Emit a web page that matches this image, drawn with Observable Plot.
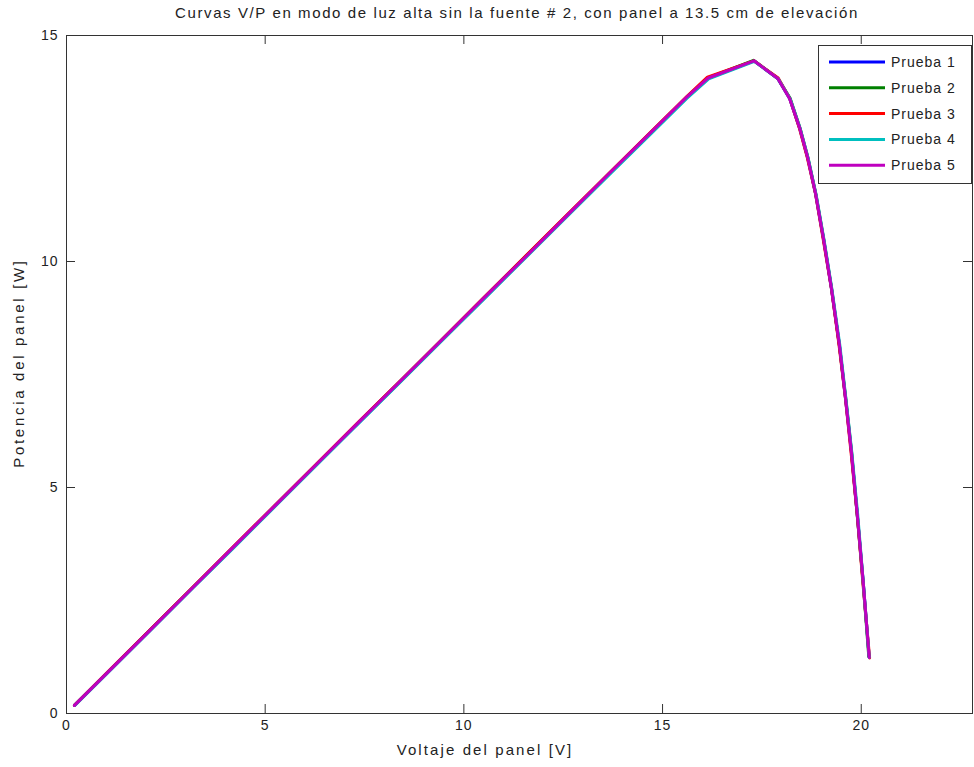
<!DOCTYPE html>
<html><head><meta charset="utf-8">
<script src="https://cdn.jsdelivr.net/npm/d3@7"></script>
<script src="https://cdn.jsdelivr.net/npm/@observablehq/plot@0.6"></script>
<style>
body{margin:0;background:#fff;}
#wrap{position:relative;width:974px;height:767px;font-family:"Liberation Sans",Arial,sans-serif;color:#222;}
#title{position:absolute;left:60px;top:0;width:914px;height:26px;line-height:26px;text-align:center;font-size:15px;letter-spacing:1.6px;white-space:nowrap;}
#chart{position:absolute;left:0;top:28px;}
#legend{position:absolute;left:818px;top:45px;width:154px;height:139px;box-sizing:border-box;border:1px solid #333;background:#fff;}
#xlabel{position:absolute;left:0;top:741px;width:970px;height:18px;line-height:18px;text-align:center;font-size:15px;letter-spacing:2.1px;white-space:nowrap;}
#ylabel{position:absolute;left:19px;top:363px;transform:translate(-50%,-50%) rotate(-90deg);font-size:15px;letter-spacing:2.7px;white-space:nowrap;line-height:18px;}
</style></head><body>
<div id="wrap"><div id="chart"></div><div id="title"></div><div id="legend"></div><div id="xlabel"></div><div id="ylabel"></div></div>
<script>
const titleText = "Curvas V/P en modo de luz alta sin la fuente # 2, con panel a 13.5 cm de elevación";
const xLabel = "Voltaje del panel [V]";
const yLabel = "Potencia del panel [W]";
const seriesNames = ["Prueba 1", "Prueba 2", "Prueba 3", "Prueba 4", "Prueba 5"];
const seriesColors = ["#0000ff", "#008000", "#ff0000", "#00bfbf", "#bf00bf"];
const xTicks = [0, 5, 10, 15, 20];
const yTicks = [0, 5, 10, 15];
const xDomain = [0, 22.8];
const yDomain = [0, 15];

const v1 = [0.20, 1.05, 2.10, 3.15, 4.20, 5.25, 6.30, 7.35, 8.40, 9.45, 10.50, 11.55, 12.60, 13.65, 14.70, 15.60, 16.15, 17.30, 17.90, 18.20, 18.45, 18.65, 18.85, 19.05, 19.25, 19.45, 19.60, 19.75, 19.90, 20.05, 20.20];
const p1 = [0.18, 0.92, 1.84, 2.76, 3.68, 4.60, 5.52, 6.43, 7.35, 8.27, 9.18, 10.10, 11.02, 11.93, 12.84, 13.62, 14.05, 14.44, 14.05, 13.60, 12.95, 12.30, 11.50, 10.50, 9.40, 8.15, 7.00, 5.80, 4.40, 2.90, 1.25];
const v2 = [0.21, 1.06, 2.11, 3.16, 4.21, 5.26, 6.31, 7.36, 8.41, 9.46, 10.51, 11.56, 12.61, 13.66, 14.71, 15.61, 16.16, 17.29, 17.90, 18.21, 18.46, 18.66, 18.86, 19.06, 19.26, 19.45, 19.61, 19.76, 19.90, 20.05, 20.19];
const p2 = [0.19, 0.93, 1.85, 2.77, 3.69, 4.61, 5.53, 6.45, 7.36, 8.28, 9.20, 10.12, 11.03, 11.95, 12.86, 13.64, 14.07, 14.45, 14.05, 13.61, 12.95, 12.29, 11.48, 10.47, 9.37, 8.14, 6.97, 5.76, 4.38, 2.88, 1.26];
const v3 = [0.20, 1.04, 2.09, 3.14, 4.19, 5.24, 6.29, 7.34, 8.39, 9.44, 10.49, 11.54, 12.59, 13.64, 14.69, 15.59, 16.13, 17.30, 17.91, 18.20, 18.44, 18.64, 18.85, 19.04, 19.25, 19.44, 19.60, 19.74, 19.90, 20.04, 20.21];
const p3 = [0.18, 0.92, 1.84, 2.76, 3.68, 4.60, 5.52, 6.44, 7.35, 8.27, 9.19, 10.11, 11.03, 11.94, 12.85, 13.63, 14.08, 14.44, 14.06, 13.61, 12.96, 12.31, 11.50, 10.51, 9.40, 8.16, 7.00, 5.81, 4.40, 2.91, 1.23];
const v4 = [0.21, 1.06, 2.11, 3.16, 4.21, 5.26, 6.31, 7.36, 8.41, 9.46, 10.51, 11.56, 12.61, 13.66, 14.71, 15.61, 16.16, 17.31, 17.91, 18.21, 18.46, 18.66, 18.86, 19.06, 19.26, 19.46, 19.61, 19.76, 19.91, 20.05, 20.20];
const p4 = [0.18, 0.92, 1.84, 2.76, 3.67, 4.59, 5.51, 6.43, 7.34, 8.26, 9.17, 10.09, 11.01, 11.92, 12.83, 13.61, 14.04, 14.43, 14.04, 13.60, 12.95, 12.30, 11.50, 10.50, 9.40, 8.16, 7.00, 5.80, 4.41, 2.91, 1.24];
const v5 = [0.20, 1.05, 2.10, 3.15, 4.20, 5.25, 6.30, 7.35, 8.40, 9.45, 10.50, 11.55, 12.60, 13.65, 14.70, 15.60, 16.15, 17.30, 17.90, 18.20, 18.45, 18.65, 18.85, 19.05, 19.25, 19.45, 19.60, 19.75, 19.90, 20.05, 20.20];
const p5 = [0.18, 0.92, 1.84, 2.76, 3.68, 4.60, 5.52, 6.44, 7.35, 8.27, 9.19, 10.10, 11.02, 11.94, 12.85, 13.63, 14.06, 14.44, 14.05, 13.60, 12.96, 12.31, 11.51, 10.51, 9.41, 8.16, 7.01, 5.81, 4.41, 2.91, 1.24];

const voltages = [v1, v2, v3, v4, v5];
const powers = [p1, p2, p3, p4, p5];
const rows = [];
seriesNames.forEach((s, i) => voltages[i].forEach((v, j) => rows.push({s, v, p: powers[i][j]})));

document.getElementById("title").textContent = titleText;
document.getElementById("xlabel").textContent = xLabel;
document.getElementById("ylabel").textContent = yLabel;

const W = 974, H = 739, mT = 7, mB = 54, mL = 66, mR = 2;
const plotW = W - mL - mR, plotH = H - mT - mB, tickLen = 9;
const ink = "#333";
const fontStack = '"Liberation Sans", Arial, sans-serif';

const chart = Plot.plot({
  width: W, height: H,
  marginTop: mT, marginBottom: mB, marginLeft: mL, marginRight: mR,
  style: {fontFamily: fontStack, fontSize: "14px", letterSpacing: "1px", color: "#222", background: "#fff"},
  x: {domain: xDomain},
  y: {domain: yDomain},
  color: {domain: seriesNames, range: seriesColors},
  marks: [
    Plot.line(rows, {x: "v", y: "p", z: "s", stroke: "s", strokeWidth: 3}),
    Plot.frame({stroke: ink}),
    Plot.tickX(xTicks, {x: d => d, insetTop: plotH - tickLen, stroke: ink}),
    Plot.tickX(xTicks, {x: d => d, insetBottom: plotH - tickLen, stroke: ink}),
    Plot.tickY(yTicks, {y: d => d, insetRight: plotW - tickLen, stroke: ink}),
    Plot.tickY(yTicks, {y: d => d, insetLeft: plotW - tickLen, stroke: ink}),
    Plot.axisX({ticks: xTicks, tickSize: 0, tickPadding: 7, label: null, fontSize: 14}),
    Plot.axisY({ticks: yTicks, tickSize: 0, tickPadding: 8, label: null, fontSize: 14})
  ]
});
document.getElementById("chart").appendChild(chart);

// legend
const lg = d3.select("#legend").append("svg").attr("width", 152).attr("height", 137)
  .style("display", "block");
seriesNames.forEach((s, i) => {
  const y = 16 + i * 25.8;
  lg.append("line").attr("x1", 10).attr("x2", 66).attr("y1", y).attr("y2", y)
    .attr("stroke", seriesColors[i]).attr("stroke-width", 3);
  lg.append("text").attr("x", 72).attr("y", y).attr("dy", "0.35em")
    .attr("font-family", fontStack).attr("font-size", 14)
    .attr("letter-spacing", "1px").attr("fill", "#222").text(s);
});
</script>
</body></html>
